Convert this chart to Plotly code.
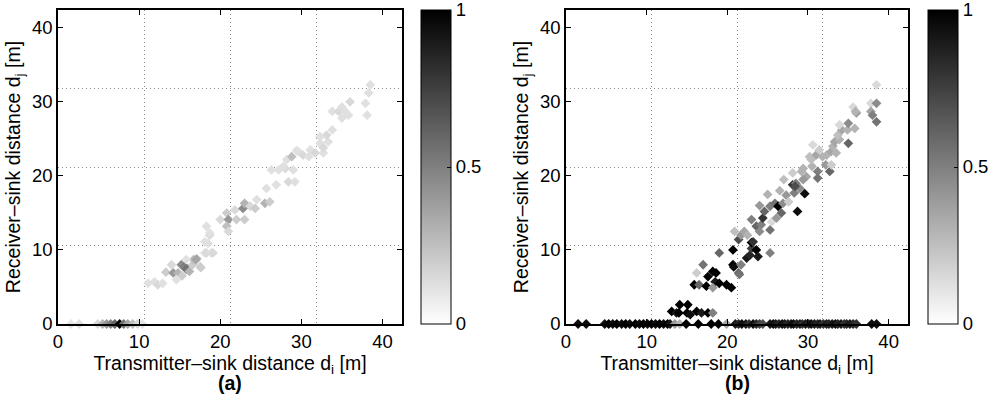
import plotly.graph_objects as go

# ---------------- data: panel (a) ----------------
a_x = [1.6, 2.6, 4.9, 5.5, 6.0, 6.5, 7.0, 7.6, 8.1, 8.6, 9.2, 9.8, 10.4,
       11.1, 11.9, 12.3, 12.9, 13.3, 14.2, 14.0, 14.8, 15.3, 15.2, 15.6, 15.8, 16.2, 16.6,
       16.7, 17.1, 17.5, 17.6, 14.6, 15.8, 17.0, 18.1, 18.3, 18.9, 19.1, 18.5, 18.1, 18.7,
       18.7, 18.3, 20.0, 20.8, 21.0, 20.8, 21.0, 21.8, 22.0, 22.8, 23.0, 23.0, 23.7, 24.5,
       24.3, 25.5, 26.1, 25.7, 26.9, 26.3, 27.2, 28.0, 29.0, 28.4, 29.2, 27.8, 28.2, 28.8,
       29.4, 29.6, 30.2, 31.1, 30.9, 31.7, 32.3, 32.7, 32.7, 33.3, 33.1, 33.8, 32.3, 33.8,
       34.6, 35.0, 35.4, 36.0, 35.0, 35.8, 37.9, 38.1, 38.3, 38.5]
a_y = [0, 0, 0, 0, 0, 0, 0, 0, 0, 0, 0, 0, 0,
       5.5, 5.7, 5.3, 5.5, 7.0, 6.9, 8.0, 6.9, 6.5, 8.0, 7.8, 7.4, 7.1, 8.0,
       8.7, 8.8, 7.8, 7.6, 6.0, 8.7, 8.7, 9.6, 9.6, 9.6, 9.6, 10.9, 11.1, 12.0,
       12.3, 13.2, 14.1, 15.0, 14.1, 13.2, 12.5, 15.4, 14.1, 15.6, 16.3, 14.1, 15.9, 16.8,
       15.6, 16.3, 16.5, 18.3, 18.8, 20.8, 20.8, 21.0, 20.8, 19.2, 19.2, 21.3, 22.2, 22.6,
       23.4, 23.3, 22.8, 23.5, 22.6, 23.1, 24.4, 23.1, 23.8, 24.6, 25.5, 26.2, 25.3, 28.7,
       28.7, 29.3, 28.7, 30.0, 27.8, 28.2, 29.8, 28.2, 31.2, 32.3]
a_v = [0.10, 0.12, 0.15, 0.30, 0.40, 0.50, 0.60, 1.00, 0.55, 0.35, 0.25, 0.15, 0.10,
       0.12, 0.12, 0.15, 0.12, 0.20, 0.40, 0.15, 0.30, 0.20, 0.45, 0.50, 0.55, 0.30, 0.20,
       0.25, 0.30, 0.15, 0.20, 0.12, 0.12, 0.35, 0.12, 0.15, 0.12, 0.15, 0.12, 0.12, 0.15,
       0.12, 0.12, 0.15, 0.20, 0.40, 0.25, 0.15, 0.15, 0.20, 0.45, 0.30, 0.20, 0.15, 0.12,
       0.20, 0.30, 0.20, 0.12, 0.12, 0.12, 0.12, 0.15, 0.12, 0.15, 0.12, 0.12, 0.12, 0.25,
       0.12, 0.12, 0.15, 0.12, 0.12, 0.15, 0.12, 0.12, 0.15, 0.12, 0.15, 0.12, 0.12, 0.12,
       0.15, 0.12, 0.12, 0.15, 0.12, 0.12, 0.12, 0.12, 0.12, 0.12]

# ---------------- data: panel (b) ----------------
b_x = [1.5, 2.5, 4.8, 5.3, 5.8, 6.3, 6.9, 7.4, 7.9, 8.6, 9.1, 9.6, 10.1, 10.6, 11.1, 11.6,
       12.1, 12.6, 12.9, 13.5, 14.1, 14.9, 16.4, 18.0, 18.9, 19.9,
       21.0, 21.4, 21.8, 22.3, 22.7, 23.2, 23.6, 24.0, 24.4,
       25.3, 25.7, 26.0, 26.4, 26.8, 27.1, 27.5, 27.9, 28.2, 28.6, 29.0, 29.3, 29.7, 30.1,
       30.4, 30.8, 31.2, 31.5, 31.9, 32.3, 32.6, 33.0, 33.4, 33.7, 34.1, 34.5, 34.8, 35.2,
       35.6, 36.0, 37.9, 38.5,
       13.1, 13.7, 14.0, 14.1, 15.0, 15.1, 15.4, 16.2, 16.8, 17.6, 18.2,
       15.9, 16.5, 17.4, 17.6, 18.2, 18.6, 18.5, 19.0, 19.9, 20.5, 18.2, 17.0, 16.2, 19.0,
       20.7, 20.7, 20.8, 21.7, 21.4, 21.5, 20.9, 21.4, 22.4, 22.8, 23.0, 23.0, 23.2, 23.6,
       23.8, 25.3, 21.7, 22.1, 23.0, 23.6, 24.2, 24.4, 24.0, 25.3, 24.6, 25.3, 25.9, 26.3,
       26.7, 25.5, 26.9, 27.3, 28.1, 28.3, 29.0, 29.6, 28.7, 26.1, 27.6, 28.1, 29.2, 29.8,
       30.2, 31.0, 31.8, 32.2, 32.7,
       29.4, 30.5, 31.2, 31.2, 32.9, 31.4, 32.3, 32.9, 33.1, 33.5, 33.3, 33.9, 33.7, 34.2,
       33.9, 34.9, 35.0, 35.8, 35.0, 35.6, 36.0, 35.9, 37.8, 38.5, 37.8, 38.0, 38.5, 38.5,
       30.6, 30.4, 29.4, 28.5, 28.4, 26.5, 27.0, 25.0, 24.0, 22.5]
b_y = [0, 0, 0, 0, 0, 0, 0, 0, 0, 0, 0, 0, 0, 0, 0, 0,
       0, 0, 0, 0, 0, 0, 0, 0, 0, 0,
       0, 0, 0, 0, 0, 0, 0, 0, 0,
       0, 0, 0, 0, 0, 0, 0, 0, 0, 0, 0, 0, 0, 0,
       0, 0, 0, 0, 0, 0, 0, 0, 0, 0, 0, 0, 0, 0,
       0, 0, 0, 0,
       1.7, 1.5, 1.5, 2.6, 1.5, 2.6, 1.25, 1.7, 1.5, 1.5, 1.5,
       5.3, 5.3, 5.1, 6.4, 7.1, 6.9, 5.7, 5.5, 5.3, 4.9, 4.9, 8.0, 6.9, 9.6,
       10.0, 8.0, 7.7, 8.0, 6.9, 6.7, 12.5, 11.4, 8.9, 9.3, 10.2, 11.0, 11.1, 10.0,
       9.1, 9.6, 12.0, 12.5, 14.1, 13.2, 13.4, 14.3, 12.5, 12.7, 15.2, 15.9, 16.3, 15.9,
       15.0, 13.8, 16.3, 17.4, 18.8, 17.7, 18.3, 17.6, 15.2, 14.3, 16.5, 20.4, 20.6, 19.9,
       22.6, 22.8, 22.6, 21.5, 20.6,
       21.0, 21.3, 20.6, 19.7, 21.5, 23.5, 22.8, 23.3, 24.0, 23.1, 24.6, 24.9, 25.5, 26.2,
       26.9, 26.2, 27.1, 26.4, 24.4, 29.3, 28.5, 28.7, 29.8, 29.8, 28.7, 28.2, 27.3, 32.3,
       24.2, 22.2, 19.5, 19.0, 18.6, 18.0, 19.5, 17.5, 16.0, 12.0]
b_v = [0.95, 0.95, 0.95, 1.00, 0.95, 1.00, 0.95, 1.00, 0.95, 1.00, 0.95, 1.00, 0.95, 1.00, 0.95, 1.00,
       0.95, 1.00, 0.90, 0.40, 0.30, 1.00, 1.00, 1.00, 1.00, 0.35,
       0.90, 0.85, 0.95, 0.90, 0.80, 0.95, 0.85, 0.75, 0.70,
       0.90, 0.95, 0.90, 0.85, 0.95, 0.90, 0.85, 0.90, 0.95, 0.85, 0.90, 0.80, 0.90, 0.85,
       0.95, 0.90, 0.85, 0.90, 0.80, 0.90, 0.85, 0.90, 0.95, 0.85, 0.90, 0.80, 0.85, 0.90,
       0.85, 0.80, 0.95, 0.95,
       1.00, 0.90, 1.00, 1.00, 1.00, 1.00, 0.95, 1.00, 0.90, 1.00, 0.50,
       1.00, 0.60, 1.00, 1.00, 1.00, 1.00, 0.90, 1.00, 1.00, 1.00, 0.40, 0.55, 0.20, 0.60,
       1.00, 1.00, 0.95, 0.50, 0.60, 0.55, 0.25, 0.70, 0.90, 0.85, 0.75, 1.00, 0.80, 1.00,
       0.90, 0.50, 0.40, 0.35, 0.50, 0.60, 0.50, 0.80, 0.45, 0.55, 0.60, 0.50, 0.55, 1.00,
       0.60, 0.15, 0.45, 0.40, 0.80, 0.50, 0.45, 0.95, 0.95, 0.40, 0.20, 0.20, 0.30, 0.35,
       0.25, 0.35, 0.30, 0.40, 0.60,
       0.30, 0.30, 0.50, 0.55, 0.20, 0.20, 0.30, 0.35, 0.30, 0.30, 0.35, 0.30, 0.25, 0.35,
       0.15, 0.30, 0.45, 0.30, 0.60, 0.15, 0.40, 0.30, 0.15, 0.45, 0.35, 0.50, 0.55, 0.15,
       0.15, 0.25, 0.40, 0.50, 0.70, 0.30, 0.25, 0.30, 0.40, 0.30]

x_title = "Transmitter–sink distance d<sub>i</sub> [m]"
y_title = "Receiver–sink distance d<sub>j</sub> [m]"
panel_labels = ["<b>(a)</b>", "<b>(b)</b>"]
tick_vals = [0, 10, 20, 30, 40]
grid_vals = [10.6, 21.2, 31.8]
cbar_ticks = [0, 0.5, 1]

FONT = "Liberation Sans, Arial, Helvetica, sans-serif"
W, H = 991, 399
T, B = 10, 75
colorscale = [[0, "#ffffff"], [1, "#000000"]]
TICK_SIZE = 18.5
TITLE_SIZE = 19.5

fig = go.Figure()

def add_panel(xs, ys, vs, xa, ya, cb_x):
    fig.add_trace(go.Scatter(
        x=xs, y=ys, mode="markers", xaxis=xa, yaxis=ya, showlegend=False,
        cliponaxis=False, hoverinfo="skip",
        marker=dict(symbol="diamond", size=7.5, color=vs, cmin=0, cmax=1,
                    colorscale=colorscale, line=dict(width=0),
                    colorbar=dict(x=cb_x, xanchor="left", xref="paper",
                                  y=0.5, yanchor="middle", len=1, lenmode="fraction",
                                  ypad=0, xpad=0,
                                  thickness=30, thicknessmode="pixels",
                                  outlinecolor="black", outlinewidth=1,
                                  tickvals=cbar_ticks, ticktext=["0", "0.5", "1"],
                                  ticks="inside", ticklen=4, tickcolor="black",
                                  ticklabeloverflow="allow",
                                  tickfont=dict(family=FONT, size=TICK_SIZE, color="black"))),
    ))

add_panel(a_x, a_y, a_v, "x", "y", 421 / W)
add_panel(b_x, b_y, b_v, "x2", "y2", 928 / W)

axis_common = dict(
    range=[0, 42.4], tickvals=tick_vals, ticks="inside", ticklen=5, tickcolor="black",
    showline=True, linecolor="black", linewidth=1.5, mirror="ticks",
    showgrid=False, zeroline=False,
    tickfont=dict(family=FONT, size=TICK_SIZE, color="black"),
    minor=dict(tickvals=grid_vals, showgrid=True, gridcolor="#8c8c8c",
               griddash="1px,3px", gridwidth=1, ticks=""),
)

fig.update_layout(
    width=W, height=H,
    margin=dict(l=0, r=0, t=T, b=B, autoexpand=False),
    paper_bgcolor="white", plot_bgcolor="white",
    font=dict(family=FONT, size=TICK_SIZE, color="black"),
    xaxis=dict(domain=[58 / W, 402 / W], anchor="y",
               title=dict(text=x_title, standoff=0, font=dict(size=TITLE_SIZE)), **axis_common),
    yaxis=dict(domain=[0, 1], anchor="x",
               title=dict(text=y_title, standoff=6, font=dict(size=TITLE_SIZE)), **axis_common),
    xaxis2=dict(domain=[566 / W, 908 / W], anchor="y2",
                title=dict(text=x_title, standoff=0, font=dict(size=TITLE_SIZE)), **axis_common),
    yaxis2=dict(domain=[0, 1], anchor="x2",
                title=dict(text=y_title, standoff=6, font=dict(size=TITLE_SIZE)), **axis_common),
    annotations=[
        dict(text=panel_labels[0], x=230 / W, y=(324 - 383) / 314, xref="paper", yref="paper",
             xanchor="center", yanchor="middle", showarrow=False,
             font=dict(family=FONT, size=TITLE_SIZE, color="black")),
        dict(text=panel_labels[1], x=737 / W, y=(324 - 383) / 314, xref="paper", yref="paper",
             xanchor="center", yanchor="middle", showarrow=False,
             font=dict(family=FONT, size=TITLE_SIZE, color="black")),
    ],
)

fig.write_html("out.html", config={"displayModeBar": False},
               post_script="document.body.style.margin='0px';document.body.style.padding='0px';")
